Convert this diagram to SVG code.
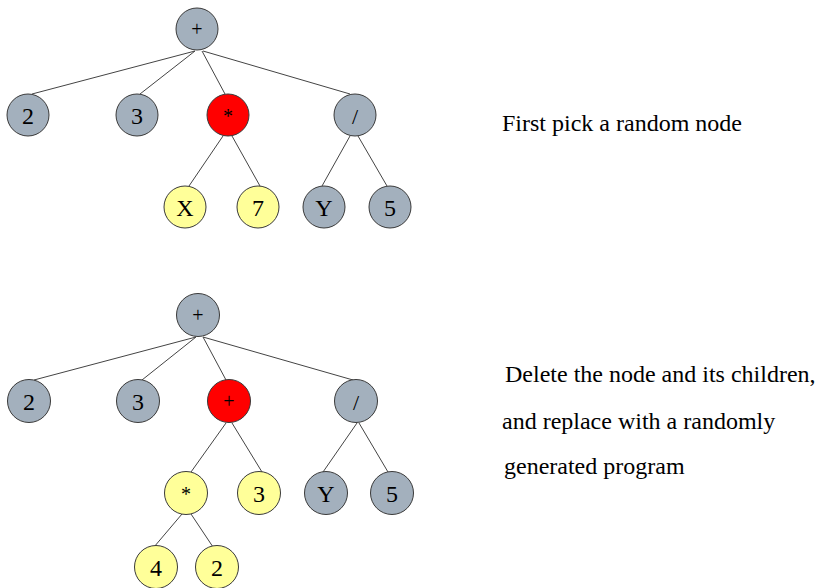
<svg xmlns="http://www.w3.org/2000/svg" width="821" height="588" viewBox="0 0 821 588">
<style>
.n{stroke:#3a3a3a;stroke-width:1}
.g{fill:#a3b0bd}
.y{fill:#ffff99}
.r{fill:#ff0000}
text{font-family:'Liberation Serif','DejaVu Serif',serif}
.t{font-size:24px;fill:#000;text-anchor:middle}
.op{font-size:20px}
.sl{font-size:22px}
.cap{font-size:24px;fill:#000}
#edges line{stroke:#444;stroke-width:1}
</style>
<rect width="821" height="588" fill="#fff"/>
<g id="edges">
<line x1="195" y1="51" x2="32" y2="94"/>
<line x1="195" y1="51" x2="140" y2="94"/>
<line x1="202" y1="51" x2="225" y2="94"/>
<line x1="203" y1="51" x2="350" y2="94"/>
<line x1="223" y1="136" x2="189" y2="186"/>
<line x1="232" y1="136" x2="260" y2="186"/>
<line x1="350" y1="136" x2="322" y2="186"/>
<line x1="358" y1="136" x2="387" y2="186"/>
<line x1="196" y1="337" x2="34" y2="380"/>
<line x1="196" y1="337" x2="142" y2="380"/>
<line x1="203" y1="337" x2="226" y2="380"/>
<line x1="203" y1="337" x2="353" y2="380"/>
<line x1="226" y1="423" x2="191" y2="472"/>
<line x1="232" y1="423" x2="262" y2="472"/>
<line x1="357" y1="423" x2="323" y2="472"/>
<line x1="359" y1="423" x2="388" y2="472"/>
<line x1="182" y1="514" x2="154" y2="547"/>
<line x1="191" y1="514" x2="213" y2="547"/>
</g>
<g id="t1_root"><circle class="n g" cx="197" cy="29" r="21"/><text class="t op" x="197" y="36" font-family="Liberation Serif">+</text></g>
<g id="t1_2"><circle class="n g" cx="28" cy="115" r="21"/><text class="t" x="28" y="124" font-family="Liberation Serif">2</text></g>
<g id="t1_3"><circle class="n g" cx="137" cy="115" r="21"/><text class="t" x="137" y="124" font-family="Liberation Serif">3</text></g>
<g id="t1_mul"><circle class="n r" cx="228" cy="115" r="21"/><text class="t op" x="228" y="123" font-family="Liberation Serif">*</text></g>
<g id="t1_div"><circle class="n g" cx="355" cy="115" r="21"/><text class="t sl" x="355" y="124" font-family="Liberation Serif">/</text></g>
<g id="t1_X"><circle class="n y" cx="185" cy="207" r="21"/><text class="t" x="185" y="216" font-family="Liberation Serif">X</text></g>
<g id="t1_7"><circle class="n y" cx="258" cy="207" r="21"/><text class="t" x="258" y="216" font-family="Liberation Serif">7</text></g>
<g id="t1_Y"><circle class="n g" cx="324" cy="207" r="21"/><text class="t" x="324" y="216" font-family="Liberation Serif">Y</text></g>
<g id="t1_5"><circle class="n g" cx="390" cy="207" r="21"/><text class="t" x="390" y="216" font-family="Liberation Serif">5</text></g>
<g id="t2_root"><circle class="n g" cx="198" cy="315" r="21.5"/><text class="t op" x="198" y="322" font-family="Liberation Serif">+</text></g>
<g id="t2_2"><circle class="n g" cx="29" cy="401" r="21.5"/><text class="t" x="29" y="410" font-family="Liberation Serif">2</text></g>
<g id="t2_3"><circle class="n g" cx="138" cy="401" r="21.5"/><text class="t" x="138" y="410" font-family="Liberation Serif">3</text></g>
<g id="t2_plus"><circle class="n r" cx="229" cy="401" r="21.5"/><text class="t op" x="229" y="408" font-family="Liberation Serif">+</text></g>
<g id="t2_div"><circle class="n g" cx="356" cy="401" r="21.5"/><text class="t sl" x="356" y="410" font-family="Liberation Serif">/</text></g>
<g id="t2_mul"><circle class="n y" cx="186" cy="493" r="21.5"/><text class="t op" x="186" y="501" font-family="Liberation Serif">*</text></g>
<g id="t2_3b"><circle class="n y" cx="259" cy="493" r="21.5"/><text class="t" x="259" y="502" font-family="Liberation Serif">3</text></g>
<g id="t2_Y"><circle class="n g" cx="326" cy="493" r="21.5"/><text class="t" x="326" y="502" font-family="Liberation Serif">Y</text></g>
<g id="t2_5"><circle class="n g" cx="392" cy="493" r="21.5"/><text class="t" x="392" y="502" font-family="Liberation Serif">5</text></g>
<g id="t2_4"><circle class="n y" cx="156" cy="567" r="21.5"/><text class="t" x="156" y="576" font-family="Liberation Serif">4</text></g>
<g id="t2_2b"><circle class="n y" cx="217" cy="567" r="21.5"/><text class="t" x="217" y="576" font-family="Liberation Serif">2</text></g>
<text class="cap" x="502" y="131" font-family="Liberation Serif">First pick a random node</text>
<text class="cap" x="505" y="382" font-family="Liberation Serif">Delete the node and its children,</text>
<text class="cap" x="502" y="429" font-family="Liberation Serif">and replace with a randomly</text>
<text class="cap" x="504" y="474" font-family="Liberation Serif">generated program</text>
</svg>
